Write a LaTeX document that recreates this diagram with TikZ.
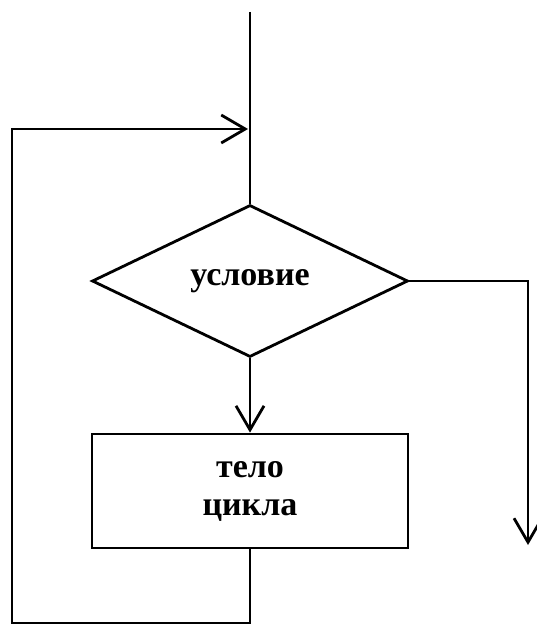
\documentclass[tikz,border=0pt]{standalone}
\usepackage{fontspec}
\setmainfont{Liberation Serif}
\usetikzlibrary{shapes.geometric,arrows.meta}
\begin{document}
\begin{tikzpicture}[x=1pt,y=-1pt,
  line/.style={line width=2.8pt,line join=miter},
  arr/.style={line,-{Straight Barb[length=24pt,width=28pt,line width=2.8pt]}},
  txt/.style={font=\fontsize{34}{38}\selectfont\bfseries}]
\useasboundingbox (0,0) rectangle (536,626);
\node[diamond,draw,line,minimum width=316pt,minimum height=152pt,inner sep=0pt,txt] (cond) at (250,281) {условие};
\node[rectangle,draw,line,minimum width=316pt,minimum height=114pt,inner sep=0pt,txt,align=center] (body) at (250,491) {тело\\цикла};
\coordinate (top) at (250,12);
\coordinate (bl) at (250,623);
\coordinate (ll) at (12,623);
\coordinate (lt) at (12,129);
\coordinate (mt) at (248,129);
\coordinate (rt) at (528,281);
\coordinate (rb) at (528,545);
\draw[line] (top) -- (cond.north);
\draw[arr] (cond.south) -- (body.north);
\draw[arr] (body.south) -- (bl) -- (ll) -- (lt) -- (mt);
\draw[arr] (cond.east) -- (rt) -- (rb);
\end{tikzpicture}
\end{document}
